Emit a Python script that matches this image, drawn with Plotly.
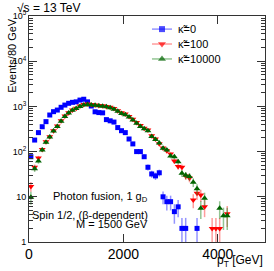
import math
import plotly.graph_objects as go

# ---- data ----
pt_centers = list(range(40, 4280, 80))  # 80 GeV bins

kappa0 = [77, 180, 263, 355, 460, 645, 765, 830, 955, 1070,
          1170, 1230, 1260, 1380, 1440, 1260, 1020, 760, 730, 720,
          510, 480, 450, 340, 290, 263, 190, 148, 100, 100,
          77, 45, 32, 29, 34, 10, 7.8, 7.8, 4.7, 6,
          2, 2, None, None, 2, None, None, None, None, None,
          None, None, None]

kappa100 = [17, 45, 72, 112, 165, 214, 290, 370, 480, 615,
            725, 830, 910, 1020, 1100, 1130, 1100, 1080, 1050, 1040,
            1000, 960, 900, 800, 720, 680, 600, 520, 440, 380,
            330, 300, 225, 190, 150, 120, 105, 88, 62, 47,
            45, 29, 26, 8.5, 12, 11, 6, None, 2, 2,
            2, None, 4.2]

kappa10000 = [9.8, 42, 62, 108, 160, 210, 285, 360, 470, 600,
              710, 820, 900, 1000, 1070, 1100, 1080, 1060, 1030, 1010,
              980, 930, 870, 780, 700, 650, 580, 500, 425, 360,
              320, 290, 215, 185, 155, 118, 108, 80, 77, 60,
              33, 30, 28, 21, 15, 5.6, 9.3, None, None, None,
              5.6, 3.8, 3.8]

series_names = ["κ̃=0", "κ̃=100", "κ̃=10000"]
ytickvals = [1, 10, 100, 1000, 10000, 100000]
yticktext = ["1", "10", "10<sup>2</sup>", "10<sup>3</sup>", "10<sup>4</sup>", "10<sup>5</sup>"]
xtickvals = [0, 2000, 4000]
xticktext = ["0", "2000", "4000"]

FONT = "Liberation Sans, Arial, Helvetica, sans-serif"

styles = [
    dict(symbol="square", color="#0000ff", err="rgba(60,60,255,0.55)", size=5),
    dict(symbol="triangle-down", color="#ff0000", err="rgba(255,60,60,0.5)", size=6),
    dict(symbol="triangle-up", color="#006400", err="rgba(40,140,40,0.5)", size=6),
]

fig = go.Figure()
for vals, st in zip([kappa0, kappa100, kappa10000], styles):
    err = [math.sqrt(v) if v is not None else None for v in vals]
    fig.add_trace(go.Scatter(
        x=pt_centers, y=vals, mode="markers",
        marker=dict(symbol=st["symbol"], size=st["size"], color=st["color"],
                    line=dict(width=0)),
        error_y=dict(type="data", array=err, color=st["err"], thickness=1.5, width=0),
        showlegend=False, hoverinfo="skip"))

# ---- manual legend (overlay axes in 0..1 frame units) ----
leg_x0, leg_x1 = 0.521, 0.606
leg_ys = [0.942, 0.876, 0.810]
for name, st, ly in zip(series_names, styles, leg_ys):
    fig.add_trace(go.Scatter(
        x=[leg_x0, (leg_x0 + leg_x1) / 2, leg_x1], y=[ly, ly, ly],
        mode="lines+markers", xaxis="x2", yaxis="y2",
        line=dict(color=st["err"], width=1.5),
        marker=dict(symbol=st["symbol"], size=[0, st["size"] + 1, 0], color=st["color"],
                    line=dict(width=0)),
        showlegend=False, hoverinfo="skip"))
    fig.add_annotation(x=0.623, y=ly, xref="paper", yref="paper", text=name,
                       showarrow=False, xanchor="left", yanchor="middle",
                       font=dict(size=11, color="black", family=FONT))

# ---- text annotations ----
fig.add_annotation(x=-0.059, y=1.035, xref="paper", yref="paper",
                   text="√s = 13 TeV", showarrow=False, xanchor="left", yanchor="middle",
                   font=dict(size=12, color="black", family=FONT))
fig.add_annotation(x=0.513, y=0.199, xref="paper", yref="paper",
                   text="Photon fusion, 1 g<sub>D</sub>", showarrow=False,
                   xanchor="right", yanchor="middle",
                   font=dict(size=11, color="black", family=FONT))
fig.add_annotation(x=0.513, y=0.119, xref="paper", yref="paper",
                   text="Spin 1/2, (β-dependent)", showarrow=False,
                   xanchor="right", yanchor="middle",
                   font=dict(size=11, color="black", family=FONT))
fig.add_annotation(x=0.513, y=0.078, xref="paper", yref="paper",
                   text="M = 1500 GeV", showarrow=False,
                   xanchor="right", yanchor="middle",
                   font=dict(size=11, color="black", family=FONT))
# axis titles
fig.add_annotation(x=1.0, y=-0.086, xref="paper", yref="paper",
                   text="p<sub>T</sub> [GeV]", showarrow=False,
                   xanchor="right", yanchor="middle",
                   font=dict(size=12, color="black", family=FONT))
fig.add_annotation(x=-0.075, y=1.0, xref="paper", yref="paper",
                   text="Events/80 GeV", showarrow=False, textangle=-90,
                   xanchor="center", yanchor="top",
                   font=dict(size=11, color="black", family=FONT))

minor_y = [m * 10 ** d for d in range(0, 5) for m in range(2, 10)]

fig.update_layout(
    template="none",
    width=274, height=271,
    margin=dict(l=29, r=9, t=16, b=29, pad=0),
    plot_bgcolor="white", paper_bgcolor="white",
    font=dict(family=FONT, color="black"),
    xaxis=dict(range=[0, 5000], tickmode="array", tickvals=xtickvals, ticktext=xticktext,
               ticks="inside", ticklen=8, tickwidth=1, tickcolor="#333",
               showline=True, linecolor="#333", linewidth=1, mirror="ticks",
               showgrid=False, zeroline=False, automargin=False,
               ticklabelstandoff=-1,
               tickfont=dict(size=14, family=FONT, color="black")),
    yaxis=dict(type="log", range=[0, 5], tickmode="array", tickvals=ytickvals,
               ticktext=yticktext,
               ticks="inside", ticklen=8, tickwidth=1, tickcolor="#333",
               showline=True, linecolor="#333", linewidth=1, mirror="ticks",
               showgrid=False, zeroline=False, automargin=False,
               minor=dict(tickmode="array", tickvals=minor_y, ticks="inside",
                          ticklen=4, tickcolor="#333", showgrid=False),
               tickfont=dict(size=9, family=FONT, color="black")),
    xaxis2=dict(overlaying="x", range=[0, 1], visible=False),
    yaxis2=dict(overlaying="y", range=[0, 1], visible=False),
    showlegend=False,
)

fig.write_html("out.html",
               config={"displayModeBar": False},
               post_script="document.body.style.margin='0';document.body.style.overflow='hidden';")
